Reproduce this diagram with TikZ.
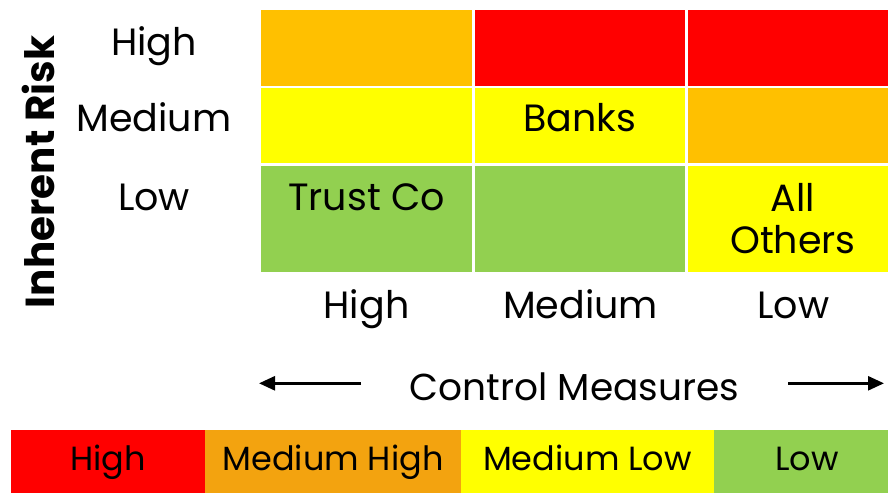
\documentclass[tikz,border=0pt]{standalone}
\usepackage{fontspec}
\setmainfont{Poppins}
\usetikzlibrary{arrows.meta}
\definecolor{cOrange}{HTML}{FFC000}
\definecolor{cRed}{HTML}{FF0000}
\definecolor{cYellow}{HTML}{FFFF00}
\definecolor{cGreen}{HTML}{92D050}
\definecolor{cLOrange}{HTML}{F3A30F}
\tikzset{
  lbl/.style={anchor=base, inner sep=0pt, font=\fontsize{38}{42}\selectfont},
  leg/.style={anchor=base, inner sep=0pt, font=\fontsize{33.5}{37}\selectfont},
  arr/.style={line width=2.6pt, -{Triangle[length=16pt,width=14pt]}},
}
\begin{document}
\begin{tikzpicture}[x=1pt,y=-1pt]
\useasboundingbox (0,0) rectangle (888,493);
% grid cells
\fill[cOrange] (261.3,10.3) rectangle (472,85.7);
\fill[cRed]    (474.7,10.3) rectangle (685.3,85.7);
\fill[cRed]    (687.7,10.3) rectangle (888,85.7);
\fill[cYellow] (261.3,88.3) rectangle (472,163.3);
\fill[cYellow] (474.7,88.3) rectangle (685.3,163.3);
\fill[cOrange] (687.7,88.3) rectangle (888,163.3);
\fill[cGreen]  (261.3,166) rectangle (472,272);
\fill[cGreen]  (474.7,166) rectangle (685.3,272);
\fill[cYellow] (687.7,166) rectangle (888,272);
% cell texts
\node[lbl] (banks) at (580,131) {Banks};
\node[lbl] (trust) at (366.5,210) {Trust Co};
\node[lbl] (all) at (793,211) {All};
\node[lbl] (others) at (793,253) {Others};
% row labels
\node[lbl] (rh) at (154,55) {High};
\node[lbl] (rm) at (154,131) {Medium};
\node[lbl] (rl) at (154,210) {Low};
\node[font=\fontsize{40.5}{44}\selectfont\bfseries, rotate=90, inner sep=0pt] (ir) at (38,172) {Inherent Risk};
% column labels
\node[lbl] (ch) at (366.5,318) {High};
\node[lbl] (cm) at (580.5,318) {Medium};
\node[lbl] (cl) at (793.5,318) {Low};
% control measures
\node[lbl, font=\fontsize{37.5}{41}\selectfont] (cmeas) at (574.5,400) {Control Measures};
\coordinate (la) at (361,383.3);
\coordinate (lb) at (259,383.3);
\coordinate (ra) at (788,383.3);
\coordinate (rb) at (884,383.3);
\draw[arr] (la) -- (lb);
\draw[arr] (ra) -- (rb);
% legend
\fill[cRed]     (11,430) rectangle (205,493);
\fill[cLOrange] (205,430) rectangle (461,493);
\fill[cYellow]  (461,430) rectangle (714,493);
\fill[cGreen]   (714,430) rectangle (888,493);
\node[leg] (lh) at (108,470) {High};
\node[leg] (lmh) at (333,470) {Medium High};
\node[leg] (lml) at (587.5,470) {Medium Low};
\node[leg] (ll) at (807,470) {Low};
\end{tikzpicture}
\end{document}
